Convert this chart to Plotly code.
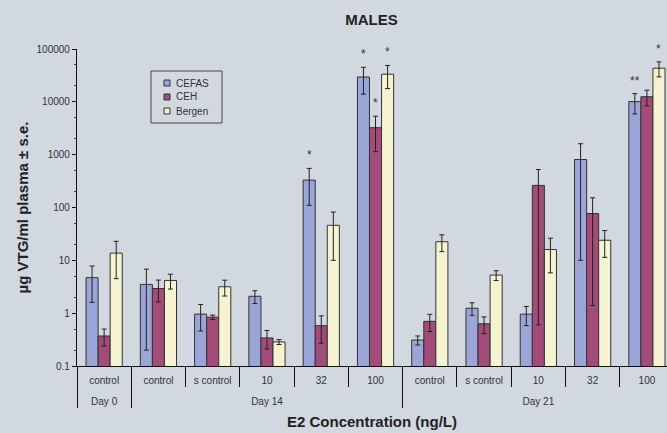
import plotly.graph_objects as go
import math

days = ["Day 0", "Day 14", "Day 14", "Day 14", "Day 14", "Day 14",
        "Day 21", "Day 21", "Day 21", "Day 21", "Day 21"]
concs = ["control", "control", "s control", "10", "32", "100",
         "control", "s control", "10", "32", "100"]

cefas = [4.7, 3.5, 0.96, 2.09, 330, 29500, 0.31, 1.24, 0.96, 810, 10100]
cefas_err = [3.1, 3.3, 0.5, 0.57, 220, 15500, 0.06, 0.33, 0.38, 800, 4200]
ceh = [0.37, 2.93, 0.84, 0.34, 0.58, 3240, 0.70, 0.63, 262, 77, 12500]
ceh_err = [0.13, 1.3, 0.08, 0.13, 0.31, 2100, 0.25, 0.22, 261.4, 75.6, 4100]
bergen = [13.7, 4.16, 3.16, 0.285, 46, 33300, 22.5, 5.26, 16, 24, 43300]
bergen_err = [9.2, 1.3, 1.05, 0.03, 36, 15500, 7.9, 1.1, 10.2, 12.6, 13700]

series_names = ["CEFAS", "CEH", "Bergen"]
series_colors = ["#9ca5d8", "#a34b79", "#f6f3d3"]

star_series = [0, 0, 1, 2, 0, 2]
star_cat = [4, 5, 5, 5, 10, 10]
star_text = ["*", "*", "*", "*", "**", "*"]

y_ticks = [0.1, 1, 10, 100, 1000, 10000, 100000]
y_ticktext = ["0.1", "1", "10", "100", "1000", "10000", "100000"]

BG = "#d2d8e0"
FONT = "Liberation Sans, Arial, sans-serif"
W, H = 667, 433
ML, MR, MT, MB = 77, 0, 49, 67
PW, PH = W - ML - MR, H - MT - MB

# outer (day) labels pushed one line below the concentration row
day_labels = ["<br>" + d for d in days]

fig = go.Figure()
vals = [cefas, ceh, bergen]
errs = [cefas_err, ceh_err, bergen_err]
for name, color, v, e in zip(series_names, series_colors, vals, errs):
    fig.add_trace(go.Bar(
        name=name, x=[day_labels, concs], y=v, showlegend=False,
        marker=dict(color=color, line=dict(color="#333333", width=1)),
        error_y=dict(type="data", array=e, visible=True, color="#222222",
                     thickness=1, width=2.5),
    ))

bargap = 0.333
bw = (1 - bargap) / 3
for s, c, t in zip(star_series, star_cat, star_text):
    top = vals[s][c] + errs[s][c]
    fig.add_annotation(
        x=c + (s - 1) * bw, y=math.log10(top), xref="x", yref="y",
        text=t, showarrow=False, yanchor="bottom", yshift=4,
        font=dict(size=12, color="#333333", family=FONT))


# pixel layout converted to paper coords
def px(xp):
    return (xp - ML) / PW


def py(yp):
    return (H - MB - yp) / PH


# compact boxed legend
LEG_L, LEG_T, LEG_R, LEG_B = 151, 71, 222, 123
fig.add_shape(type="rect", xref="paper", yref="paper",
              x0=px(LEG_L), x1=px(LEG_R), y0=py(LEG_B), y1=py(LEG_T),
              line=dict(color="#444444", width=1), fillcolor=BG, layer="above")
for i, (name, color) in enumerate(zip(series_names, series_colors)):
    cy = 83 + i * 14
    fig.add_shape(type="rect", xref="paper", yref="paper",
                  x0=px(164), x1=px(170), y0=py(cy + 3), y1=py(cy - 3),
                  line=dict(color="#333333", width=1), fillcolor=color,
                  layer="above")
    fig.add_annotation(xref="paper", yref="paper", x=px(174), y=py(cy),
                       xanchor="left", yanchor="middle", text=name,
                       showarrow=False,
                       font=dict(size=10, color="#333333", family=FONT))

# x-axis title
fig.add_annotation(xref="paper", yref="paper", x=0.5, y=py(421),
                   xanchor="center", yanchor="middle",
                   text="<b>E2 Concentration (ng/L)</b>", showarrow=False,
                   font=dict(size=15, color="#222222", family=FONT))

fig.update_layout(
    width=W, height=H,
    margin=dict(l=ML, r=MR, t=MT, b=MB, autoexpand=False),
    paper_bgcolor=BG, plot_bgcolor=BG,
    barmode="group", bargap=bargap, bargroupgap=0,
    font=dict(family=FONT, color="#222222"),
    title=dict(text="<b>MALES</b>", x=0.557, xanchor="center",
               yref="container", y=0.955,
               yanchor="middle", font=dict(size=15, color="#222222")),
    showlegend=False,
)

fig.update_yaxes(
    type="log", range=[-1, 5], tickvals=y_ticks, ticktext=y_ticktext,
    showline=True, linecolor="#111111", linewidth=1.2,
    ticks="outside", ticklen=4, tickcolor="#111111",
    minor=dict(ticks="outside", ticklen=2, tickcolor="#444444", showgrid=False),
    showgrid=False, zeroline=False, automargin=False,
    tickfont=dict(size=10, color="#333333"),
    title=dict(text="<b>µg VTG/ml plasma ± s.e.</b>", standoff=4,
               font=dict(size=15, color="#222222")),
)

fig.update_xaxes(
    type="multicategory", range=[-0.5, 10.37],
    showline=True, linecolor="#111111", linewidth=1.2,
    ticks="outside", tickson="boundaries", ticklen=20, tickcolor="#111111",
    ticklabelstandoff=5,
    showdividers=True, dividercolor="#111111", dividerwidth=1,
    showgrid=False, automargin=False,
    tickfont=dict(size=10, color="#333333"),
)

fig.write_html("out.html", config={"displayModeBar": False},
               post_script="document.body.style.margin='0';"
                           "document.body.style.background='" + BG + "';")
